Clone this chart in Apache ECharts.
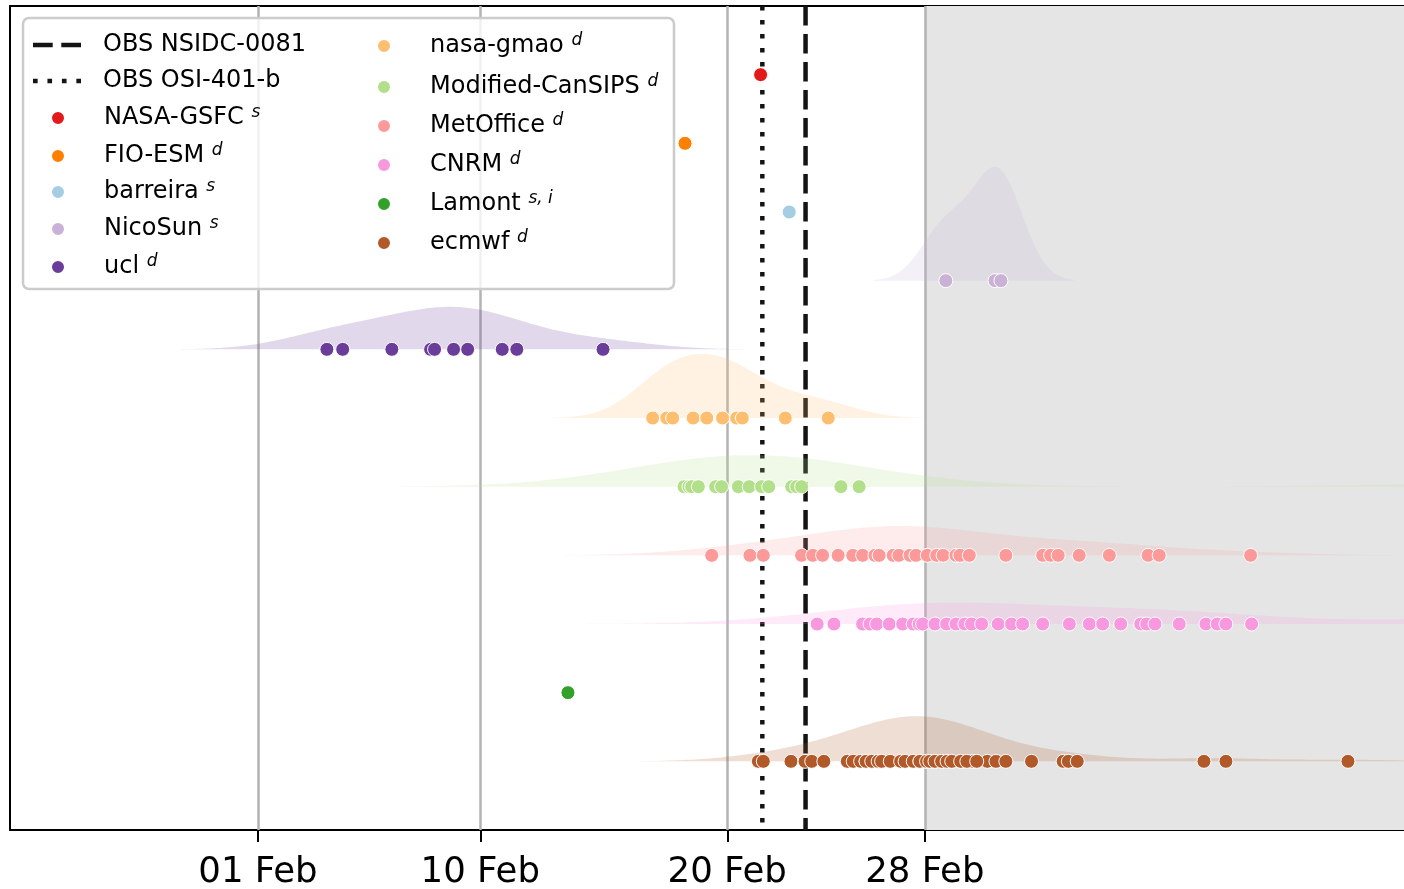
<!DOCTYPE html>
<html><head><meta charset="utf-8">
<script src="https://cdn.jsdelivr.net/npm/echarts@6/dist/echarts.min.js"></script>
<style>html,body{margin:0;padding:0;background:#fff}#c{width:1404px;height:889px}</style>
</head><body><div id="c"></div>
<script>
// x values are day-of-year (01 Feb = 31)
const models = ['NASA-GSFC','FIO-ESM','barreira','NicoSun','ucl','nasa-gmao','Modified-CanSIPS','MetOffice','CNRM','Lamont','ecmwf'];
const superscripts = ['s','d','s','s','d','d','d','d','d','s, i','d'];
const colors = ['#e31a1c','#ff7f00','#a6cee3','#cab2d6','#6a3d9a','#fdbf6f','#b2df8a','#fb9a99','#f898de','#33a02c','#b15928'];

const nasaGsfc = [51.35];
const fioEsm = [48.29];
const barreira = [52.51];
const nicoSun = [58.85, 60.84, 61.08];
const ucl = [33.79, 34.43, 36.42, 37.99, 38.15, 38.92, 39.49, 40.89, 41.48, 44.97];
const nasaGmao = [46.98, 47.55, 47.79, 48.62, 49.17, 49.81, 50.38, 50.61, 52.35, 54.09];
const modCanSIPS = [48.25, 48.45, 48.56, 48.83, 49.53, 49.77, 50.45, 50.89, 51.39, 51.68, 52.61, 52.81, 53.01, 54.60, 55.34];
const modCanSIPSOffChart = [79.0];          // beyond the right edge, implied by the wide density
const metOffice = [49.37, 50.92, 51.46, 53.01, 53.46, 53.86, 54.49, 55.08, 55.48, 55.98, 56.15, 56.72, 56.95, 57.40, 57.64, 58.10, 58.48, 58.74, 59.26, 59.42, 59.80, 61.28, 62.77, 63.09, 63.40, 64.25, 65.47, 67.04, 67.49, 71.19];
const cnrm = [53.64, 54.32, 55.48, 55.78, 56.05, 56.56, 57.10, 57.53, 57.77, 57.91, 58.41, 58.88, 59.26, 59.62, 59.89, 60.30, 60.97, 61.51, 61.96, 62.77, 63.85, 64.66, 65.20, 65.93, 66.74, 66.98, 67.32, 68.30, 69.38, 69.84, 70.19, 71.23];
const cnrmOffChart = [78.6, 79.5, 80.4, 81.0]; // beyond the right edge
const lamont = [43.55];
const ecmwf = [51.26, 51.46, 52.58, 53.15, 53.42, 53.91, 54.86, 55.10, 55.40, 55.62, 55.85, 56.11, 56.25, 57.02, 57.53, 57.80, 58.07, 58.41, 58.68, 59.09, 59.45, 59.94, 60.53, 60.88, 61.28, 62.32, 63.60, 63.81, 64.17, 69.30, 70.19, 75.13];
const ecmwfOverlapped = [55.62, 55.85, 56.11, 56.25, 56.60, 57.02, 57.20, 57.53, 57.80, 57.80, 58.07, 58.20, 58.41, 58.68, 58.90, 59.09, 59.45, 59.70, 60.10];

const obsNames = ['OBS NSIDC-0081','OBS OSI-401-b'];
const obsValues = [53.17, 51.42];

const tickValues = [31, 40, 50, 58];
const tickLabels = ['01 Feb', '10 Feb', '20 Feb', '28 Feb'];
const shadeStart = 58;

const allValues = [nasaGsfc, fioEsm, barreira, nicoSun, ucl, nasaGmao,
  modCanSIPS.concat(modCanSIPSOffChart), metOffice, cnrm.concat(cnrmOffChart), lamont, ecmwf.concat(ecmwfOverlapped)];

const X_MIN = 20.96, X_MAX = 77.40;
const KDE_SCALE = 5.84;

function kde(vals) {
  const n = vals.length;
  if (n < 2) return null;
  const mean = vals.reduce((a, b) => a + b, 0) / n;
  const sd = Math.sqrt(vals.reduce((a, v) => a + (v - mean) * (v - mean), 0) / (n - 1));
  const bw = sd * Math.pow(n, -0.2);
  const lo = Math.min(...vals) - 3 * bw, hi = Math.max(...vals) + 3 * bw;
  const pts = [];
  const G = 240;
  for (let i = 0; i < G; i++) {
    const x = lo + (hi - lo) * i / (G - 1);
    let s = 0;
    for (const v of vals) { const z = (x - v) / bw; s += Math.exp(-0.5 * z * z); }
    pts.push([x, s / (n * bw * Math.sqrt(2 * Math.PI))]);
  }
  return pts;
}

const series = [];
series.push({
  type: 'scatter', name: '_shade', data: [], silent: true, z: 1,
  markArea: { silent: true, z: 1, itemStyle: { color: '#e5e5e5' }, label: { show: false },
    data: [[{ xAxis: shadeStart }, { xAxis: X_MAX }]] }
});
series.push({
  type: 'scatter', name: '_grid', data: [], silent: true, z: 2,
  markLine: { silent: true, z: 2, symbol: 'none', animation: false, label: { show: false },
    lineStyle: { color: '#b3b3b3', width: 2.5, type: 'solid' },
    data: tickValues.map(v => ({ xAxis: v })) }
});
const obsDash = [[19.5, 8.5], [4.5, 9.5]];
obsNames.forEach((nm, i) => {
  series.push({
    type: 'line', name: nm, z: 3, symbol: 'none', silent: true, animation: false,
    data: [[obsValues[i], -1], [obsValues[i], 11]],
    lineStyle: { color: '#141414', width: 4.5, type: obsDash[i], cap: 'butt' },
    itemStyle: { color: '#141414' }
  });
});
allValues.forEach((vals, row) => {
  const pts = kde(vals);
  if (!pts) return;
  const col = colors[row];
  series.push({
    type: 'custom', name: 'kde-' + models[row], z: 4, silent: true, animation: false,
    data: [[vals[0], row]],
    renderItem: (params, api) => {
      const poly = [api.coord([pts[0][0], row])];
      for (const p of pts) poly.push(api.coord([p[0], row - p[1] * KDE_SCALE]));
      poly.push(api.coord([pts[pts.length - 1][0], row]));
      const cs = params.coordSys;
      const clipped = echarts.graphic.clipPointsByRect(poly, { x: cs.x, y: cs.y, width: cs.width, height: cs.height });
      return { type: 'polygon', shape: { points: clipped }, style: { fill: col, opacity: 0.2 } };
    }
  });
});
allValues.forEach((vals, row) => {
  series.push({
    type: 'scatter', name: models[row], z: 5, animation: false,
    symbol: 'circle', symbolSize: 14, clip: true,
    itemStyle: { color: colors[row], borderColor: '#ffffff', borderWidth: 1, opacity: 1 },
    data: vals.map(v => [v, row])
  });
});

const supMap = {};
models.forEach((m, i) => supMap[m] = superscripts[i]);
const lineIcons = {
  'OBS NSIDC-0081': 'path://M0,0h19.5v4.5h-19.5zM28,0h19.5v4.5h-19.5z',
  'OBS OSI-401-b': 'path://M0,0h4.5v4.5h-4.5zM14,0h4.5v4.5h-4.5zM28,0h4.5v4.5h-4.5zM42,0h4.5v4.5h-4.5z'
};

const font = 'DejaVu Sans';
function makeLegend(name, textLeft, markerCx, cy) {
  const isLine = !!lineIcons[name];
  const item = isLine ? { name: name, icon: lineIcons[name] } : { name: name };
  let left, itemWidth, pad;
  if (isLine) {
    left = 33; itemWidth = 48; pad = textLeft - (left + itemWidth + 5);
  } else {
    // legend box is laid out from the circle's left edge
    left = markerCx - 8; itemWidth = 82; pad = 0;
  }
  return {
    show: true, data: [item], left: left, top: cy - 14, padding: 0, z: 10,
    orient: 'vertical', itemWidth: itemWidth, itemHeight: 14, selectedMode: false,
    textStyle: {
      fontFamily: font, fontSize: 24, color: '#000', lineHeight: 28,
      padding: [0, 0, 0, pad],
      rich: {
        n: { fontFamily: font, fontSize: 24, color: '#000', lineHeight: 28 },
        s: { fontFamily: font, fontSize: 17, fontStyle: 'italic', color: '#000', lineHeight: 13, verticalAlign: 'top' }
      }
    },
    formatter: nm => supMap[nm] ? '{n|' + nm + ' }{s|' + supMap[nm] + '}' : '{n|' + nm + '}'
  };
}
const col1 = ['OBS NSIDC-0081', 'OBS OSI-401-b', 'NASA-GSFC', 'FIO-ESM', 'barreira', 'NicoSun', 'ucl'];
const col1y = [45, 81, 118, 156, 192, 229, 267];
const col2 = ['nasa-gmao', 'Modified-CanSIPS', 'MetOffice', 'CNRM', 'Lamont', 'ecmwf'];
const col2y = [46, 87, 126, 165, 204, 243];
const legends = [];
col1.forEach((n, i) => legends.push(makeLegend(n, 103, 58, col1y[i])));
col2.forEach((n, i) => legends.push(makeLegend(n, 430, 384, col2y[i])));

const chart = echarts.init(document.getElementById('c'), null, { renderer: 'canvas' });
chart.setOption({
  animation: false,
  backgroundColor: '#ffffff',
  grid: { left: 10, top: 6, right: 0, bottom: 59, containLabel: false, outerBoundsMode: 'none' },
  xAxis: [{
    type: 'value', min: X_MIN, max: X_MAX, position: 'bottom',
    axisLine: { show: true, onZero: false, lineStyle: { color: '#000', width: 2 } },
    axisTick: { show: true, customValues: tickValues, length: 12, lineStyle: { color: '#000', width: 2 } },
    axisLabel: { show: true, customValues: tickValues, margin: 25, fontFamily: font, fontSize: 35.5, color: '#000', lineHeight: 36,
      formatter: v => { const i = tickValues.indexOf(Math.round(v)); return i >= 0 ? tickLabels[i] : ''; } },
    splitLine: { show: false }
  }, {
    type: 'value', min: X_MIN, max: X_MAX, position: 'top',
    axisLine: { show: true, onZero: false, lineStyle: { color: '#000', width: 2 } },
    axisTick: { show: false }, axisLabel: { show: false }, splitLine: { show: false }
  }],
  yAxis: {
    type: 'value', min: -1, max: 11, inverse: true,
    axisLine: { show: true, onZero: false, lineStyle: { color: '#000', width: 2 } },
    axisTick: { show: false }, axisLabel: { show: false }, splitLine: { show: false }
  },
  graphic: [{
    type: 'rect', z: 9, silent: true,
    shape: { x: 23, y: 18, width: 651, height: 271, r: 6 },
    style: { fill: 'rgba(255,255,255,0.8)', stroke: '#cccccc', lineWidth: 2.5 }
  }],
  legend: legends,
  series: series
});
</script></body></html>
